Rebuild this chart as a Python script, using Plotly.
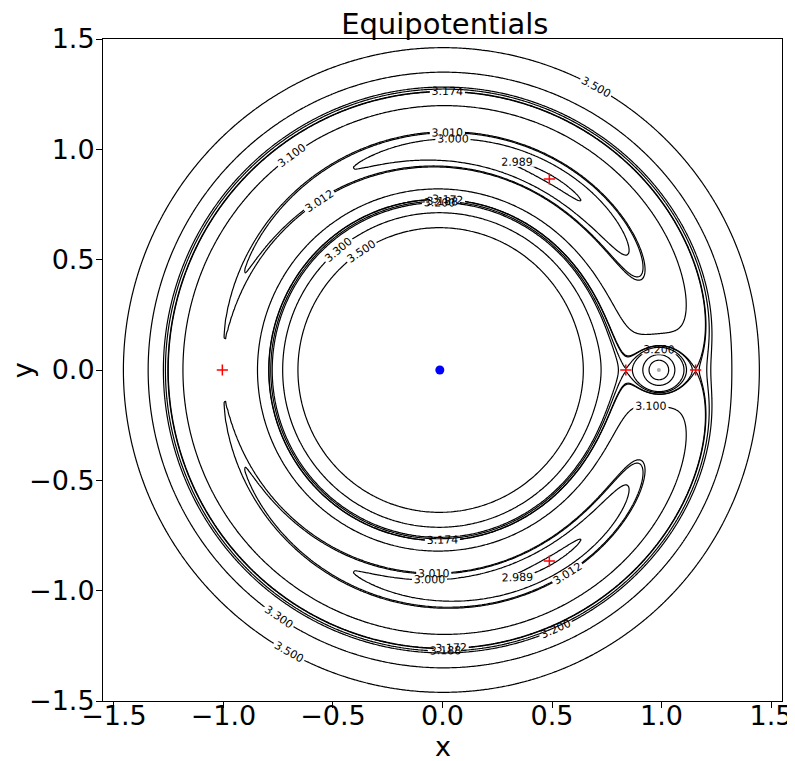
import numpy as np
import plotly.graph_objects as go

# ---- data ----
mu = 0.01215  # Earth-Moon mass ratio
level_groups = [
    [2.989],
    [3.000, 3.100, 3.200, 3.300],
    [3.010, 3.012],
    [3.172, 3.174],
    [3.188],
    [3.500],
]
lagrange_x = [0.8369, 1.1557, -1.0051, 0.4878, 0.4878]
lagrange_y = [0.0, 0.0, 0.0, 0.8660, -0.8660]
earth_x, earth_y = [-mu], [0.0]
moon_x, moon_y = [1 - mu], [0.0]
x_ticks = [-1.5, -1.0, -0.5, 0.0, 0.5, 1.0, 1.5]
y_ticks = [-1.5, -1.0, -0.5, 0.0, 0.5, 1.0, 1.5]

# ---- grid (finer near the Moon) ----
xs = np.unique(np.concatenate([
    np.arange(-1.58, 0.72, 0.01),
    np.arange(0.72, 1.28, 0.0025),
    np.arange(1.28, 1.58, 0.01),
]))
ys = np.unique(np.concatenate([
    np.arange(-1.52, -0.16, 0.01),
    np.arange(-0.16, 0.16, 0.0025),
    np.arange(0.16, 1.53, 0.01),
]))
X, Y = np.meshgrid(xs, ys)
r1 = np.sqrt((X + mu) ** 2 + Y ** 2) + 1e-9
r2 = np.sqrt((X - 1 + mu) ** 2 + Y ** 2) + 1e-9
C = X ** 2 + Y ** 2 + 2 * (1 - mu) / r1 + 2 * mu / r2
C = np.clip(C, 0, 10).astype(np.float32)

fig = go.Figure()
for grp in level_groups:
    size = (grp[-1] - grp[0]) / (len(grp) - 1) if len(grp) > 1 else 1.0
    fig.add_trace(go.Contour(
        x=xs.astype(np.float32), y=ys.astype(np.float32), z=C,
        contours=dict(start=grp[0], end=grp[-1], size=size, coloring="none",
                      showlabels=True, labelformat=".3f",
                      labelfont=dict(size=11, color="black", family="DejaVu Sans")),
        line=dict(color="black", width=1.2, smoothing=1),
        showscale=False, hoverinfo="skip",
    ))

fig.add_trace(go.Scatter(x=earth_x, y=earth_y, mode="markers",
                         marker=dict(color="blue", size=9), hoverinfo="skip"))
fig.add_trace(go.Scatter(x=moon_x, y=moon_y, mode="markers",
                         marker=dict(color="#aaaaaa", size=4), hoverinfo="skip"))
fig.add_trace(go.Scatter(x=lagrange_x, y=lagrange_y, mode="markers",
                         marker=dict(symbol="cross-thin", size=8,
                                     line=dict(color="red", width=1.5)),
                         hoverinfo="skip"))

axis_common = dict(
    showgrid=False, zeroline=False, showline=True, linecolor="black", linewidth=1,
    mirror=True, ticks="outside", ticklen=6, tickwidth=1, tickcolor="black",
    tickformat=".1f", tickfont=dict(size=27, family="DejaVu Sans", color="black"),
    automargin=False,
)
title_font = dict(size=27, family="DejaVu Sans", color="black")
fig.update_layout(
    width=787, height=753,
    margin=dict(l=95, r=13, t=31, b=60),
    plot_bgcolor="white", paper_bgcolor="white",
    showlegend=False,
    title=dict(text="Equipotentials", x=0.555, xanchor="center", y=0.979, yanchor="middle",
               font=dict(size=29, family="DejaVu Sans", color="black"), automargin=False),
    xaxis=dict(range=[-1.55, 1.55], tickvals=x_ticks, ticklabelstandoff=-15, **axis_common),
    yaxis=dict(range=[-1.5, 1.5], tickvals=y_ticks, ticklabelstandoff=-4, **axis_common),
    annotations=[
        dict(text="x", xref="paper", yref="paper", x=0.5, y=-0.068,
             xanchor="center", yanchor="middle", showarrow=False, font=title_font),
        dict(text="y", xref="paper", yref="paper", x=-0.119, y=0.5, textangle=-90,
             xanchor="center", yanchor="middle", showarrow=False, font=title_font),
    ],
)
fig.write_html("out.html")
